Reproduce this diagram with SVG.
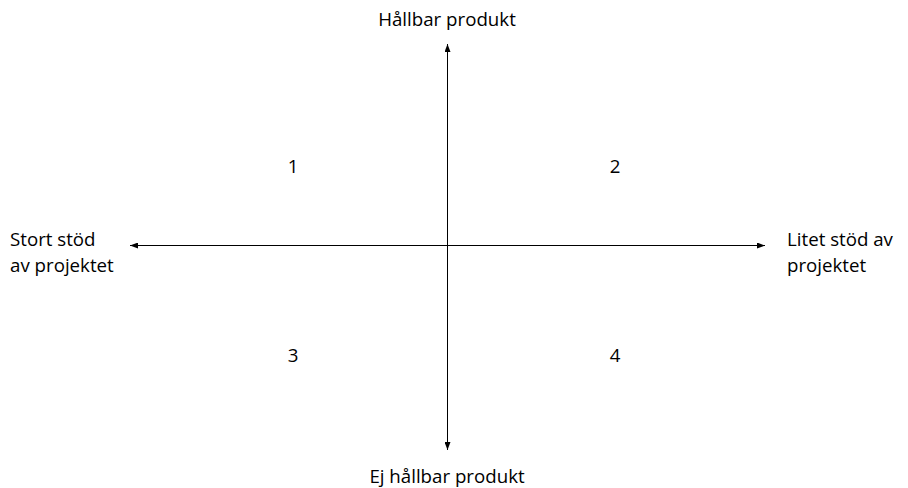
<svg xmlns="http://www.w3.org/2000/svg" width="908" height="488" viewBox="0 0 908 488">
<style>
text{font-family:"Open Sans","Noto Sans","Liberation Sans",sans-serif;font-size:18.7px;fill:#000}
.ax{stroke:#000;stroke-width:1;fill:none;marker-end:url(#ah)}
</style>
<defs>
<marker id="ah" markerWidth="8" markerHeight="6" refX="8" refY="3" orient="auto" markerUnits="userSpaceOnUse">
<path d="M0,0 L8,3 L0,6 Z" fill="#000"/>
</marker>
</defs>
<rect width="908" height="488" fill="#fff"/>
<g id="connectors">
<line class="ax" x1="447.5" y1="245" x2="447.5" y2="44"/>
<line class="ax" x1="447.5" y1="245" x2="447.5" y2="450"/>
<line class="ax" x1="447.5" y1="245.5" x2="130" y2="245.5"/>
<line class="ax" x1="447.5" y1="245.5" x2="765" y2="245.5"/>
</g>
<g id="top"><text x="447" y="26" text-anchor="middle">Hållbar produkt</text></g>
<g id="bottom"><text x="447" y="483" text-anchor="middle">Ej hållbar produkt</text></g>
<g id="left"><text x="10" y="246">Stort stöd</text><text x="10" y="272">av projektet</text></g>
<g id="right"><text x="787" y="246">Litet stöd av</text><text x="787" y="272">projektet</text></g>
<g id="q1"><text x="293" y="173" text-anchor="middle">1</text></g>
<g id="q2"><text x="615" y="173" text-anchor="middle">2</text></g>
<g id="q3"><text x="293" y="362" text-anchor="middle">3</text></g>
<g id="q4"><text x="615" y="362" text-anchor="middle">4</text></g>
</svg>
